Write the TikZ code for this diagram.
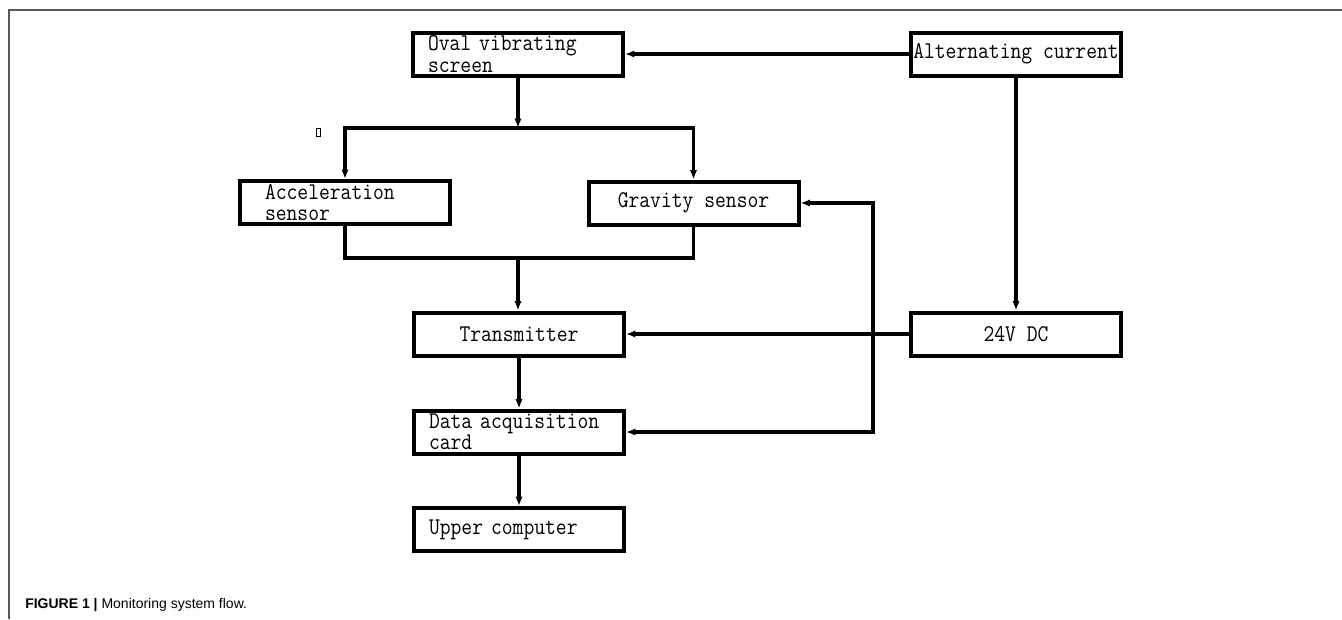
\documentclass[tikz,border=0pt]{standalone}
\usepackage{fontspec}
\setmainfont{Liberation Sans}
\newfontfamily\boxfont{Latin Modern Mono}[FakeStretch=0.875]
\newcommand{\boxtext}{\boxfont\fontsize{18}{16}\selectfont\spaceskip=\fontcharwd\font`a\relax}
\usepackage{tikz}
\usetikzlibrary{arrows.meta}
\tikzstyle{blk}=[draw,line width=3pt,minimum width=157.5pt,minimum height=32.25pt,inner xsep=0pt,inner ysep=2pt,align=center,font=\boxtext]
\tikzstyle{lblk}=[blk,align=left,text width=135pt]
\tikzstyle{common}=[line width=2.6pt]
\tikzstyle{to}=[common,-{Latex[length=7pt,width=5.5pt]}]
\tikzstyle{from}=[common,{Latex[length=7pt,width=5.5pt]}-]
\tikzstyle{both}=[common,{Latex[length=7pt,width=5.5pt]}-{Latex[length=7pt,width=5.5pt]}]
\begin{document}
\begin{tikzpicture}[x=0.75pt,y=-0.75pt]
            \useasboundingbox (0,0) rectangle (1342,619);
            % frame of the figure
            \coordinate (fbl) at (9,619);
            \coordinate (ftl) at (9,10);
            \coordinate (ftr) at (1342,10);
            \draw[gray!70!black,line width=1.2pt] (fbl) -- (ftl) -- (ftr);

            \node[lblk] (oval) at (518, 54) {Oval vibrating\\screen};
            \node[blk] (alt) at (1016, 54) {Alternating current}
                edge[to] (oval)
            ;
            \node[lblk,text width=120pt] (acc) at (345, 202.5) {Acceleration\\sensor};
            \node[blk] (grav) at (693.5, 203) {Gravity sensor};
            \node[blk] (trans) at (519, 334) {Transmitter};
            \node[blk] (dc) at (1016, 334) {24V DC}
                edge[to] (trans)
            ;
            \node[lblk] (dac) at (519, 432) {Data acquisition\\card}
                edge[from] (trans)
            ;
            \node[lblk] (upc) at (519, 529.5) {Upper computer}
                edge[from] (dac)
            ;
            \node[draw,line width=0.7pt,minimum width=2.5pt,minimum height=5.5pt,inner sep=0pt] (glyph) at (318.5, 132.5) {};

            % split, merge and return line
            \coordinate (split) at (518, 128);
            \coordinate (merge) at (518, 258);
            \coordinate (bus) at (873, 300);
            \draw[to] (oval.south) -- (split);
            \draw[both] (acc.north) |- (split) -| (grav.north);
            \draw[common] (acc.south) |- (merge) -| (grav.south);
            \draw[to] (merge) -- (merge |- trans.north);
            \draw[to] (alt.south) -- (dc.north);
            \draw[both] (grav.east) -| (bus) |- (dac.east);

            \node[anchor=base west,font=\fontsize{10.5}{12}\selectfont,inner sep=0pt] (cap) at (25, 608) {\textbf{FIGURE 1 |} Monitoring system flow.};
        \end{tikzpicture}
\end{document}
